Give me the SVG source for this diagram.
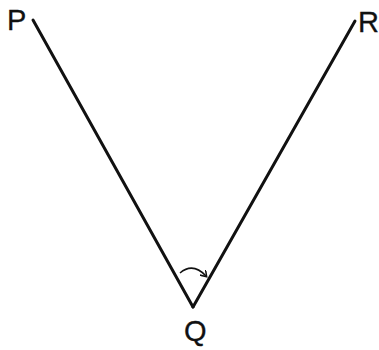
<svg xmlns="http://www.w3.org/2000/svg" width="379" height="350" viewBox="0 0 379 350">
<style>
.lbl{font-family:"Liberation Sans",Arial,sans-serif;font-size:29px;fill:#111;stroke:#111;stroke-width:0.3}
.ln{stroke:#111;stroke-width:3;fill:none;stroke-linecap:round}
</style>
<defs>
<marker id="ah" markerWidth="8" markerHeight="8" refX="5" refY="4" orient="auto" markerUnits="userSpaceOnUse">
<path d="M0,0 L6,4 L0,8" fill="none" stroke="#111" stroke-width="1.5"/>
</marker>
</defs>
<rect width="379" height="350" fill="#fff"/>
<g id="edges">
<line class="ln" x1="33" y1="20" x2="193" y2="307"/>
<line class="ln" x1="193" y1="307" x2="355" y2="21"/>
<path d="M180,273 Q193,262 206,276" fill="none" stroke="#111" stroke-width="1.5" marker-end="url(#ah)"/>
</g>
<g id="P"><text class="lbl" x="7" y="30">P</text></g>
<g id="R"><text class="lbl" x="358" y="32">R</text></g>
<g id="Q"><text class="lbl" x="184" y="341">Q</text></g>
</svg>
